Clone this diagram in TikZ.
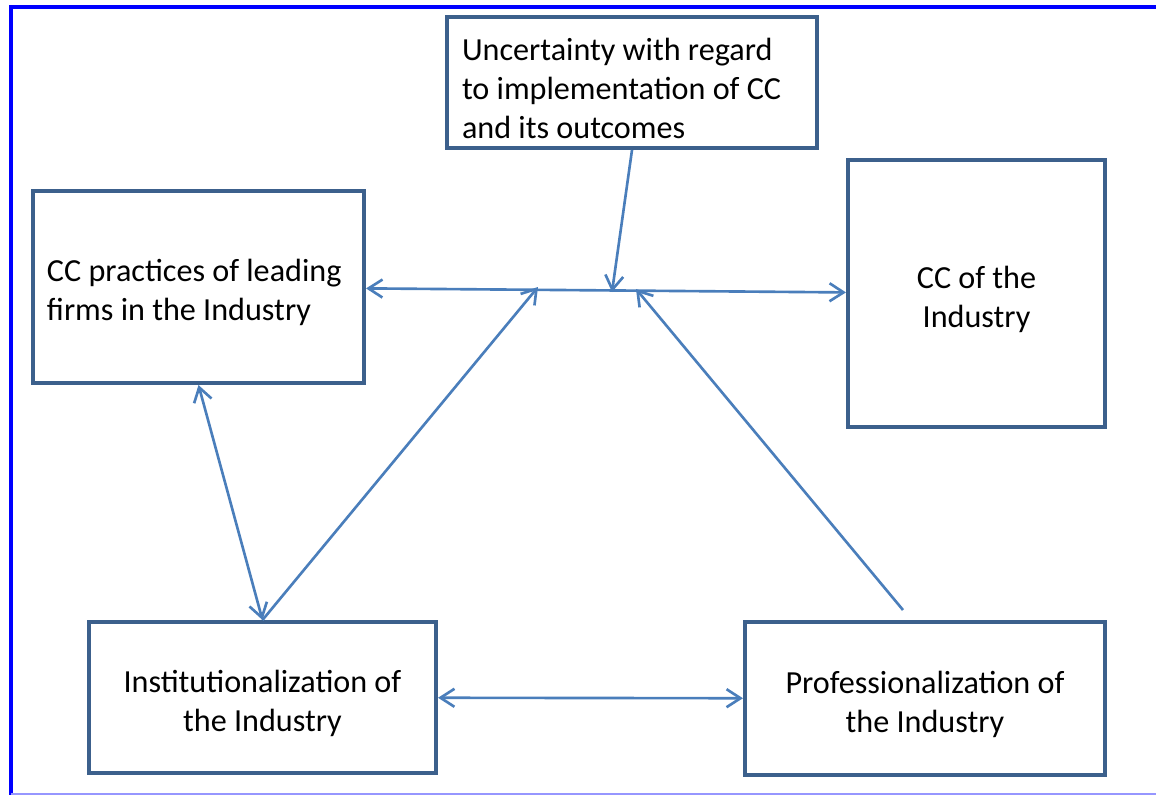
\documentclass[tikz,border=0pt]{standalone}
\usepackage{fontspec}
\setmainfont{Carlito}
\usetikzlibrary{arrows.meta,positioning}
\definecolor{boxblue}{RGB}{60,96,140}
\definecolor{linkblue}{RGB}{74,126,187}
\definecolor{framelow}{RGB}{150,150,255}

\begin{document}
\begin{tikzpicture}[x=0.2mm, y=-0.2mm,
	box/.style={draw=boxblue, line width=2.3pt, inner sep=0pt, font=\fontsize{18.3}{22.2}\selectfont,
		execute at begin node={\rule{0pt}{19pt}}},
	link/.style={draw=linkblue, line width=1.5pt, -{Straight Barb[length=2.8mm, width=3.6mm]}},
	both/.style={link, {Straight Barb[length=2.8mm, width=3.6mm]}-{Straight Barb[length=2.8mm, width=3.6mm]}}]
	\useasboundingbox (0,0) rectangle (1156,795);
	\draw[blue, line width=2.4pt] (11,795) -- (11,7) -- (1156,7);
	\draw[framelow, line width=0.8pt] (11,794) -- (1156,794);

	\node[box, minimum width=7.4cm, minimum height=2.62cm, text width=6.8cm, align=flush left,
		execute at begin node={\rule{0pt}{15pt}}] (uncert) at (632,82.5)
		{Uncertainty with regard\\to implementation of CC\\and its outcomes};
	\node[box, minimum width=6.62cm, minimum height=3.84cm, text width=6.06cm, align=flush left] (practices) at (198.5,287)
		{CC practices of leading\\firms in the Industry};
	\node[box, minimum width=5.14cm, minimum height=5.34cm, text width=4.8cm, align=flush center] (ccind) at (976.5,293.5)
		{CC of the\\Industry};
	\node[box, minimum width=6.94cm, minimum height=3.02cm, text width=6.6cm, align=flush center] (inst) at (262.5,697.5)
		{Institutionalization of\\the Industry};
	\node[box, minimum width=7.2cm, minimum height=3.06cm, text width=6.9cm, align=flush center] (prof) at (925,698.5)
		{Professionalization of\\the Industry};

	\coordinate (hubL) at (538,287);
	\coordinate (hubM) at (612,292);
	\coordinate (hubR) at (636,289);
	\coordinate (proftop) at (903,610);

	\draw[both] (practices) -- (ccind);
	\draw[link] (uncert.south) -- (hubM);
	\draw[link] (inst.north) -- (hubL);
	\draw[link] (proftop) -- (hubR);
	\draw[both] (practices.south) -- (inst.north);
	\draw[both] (inst) -- (prof);
\end{tikzpicture}
\end{document}
